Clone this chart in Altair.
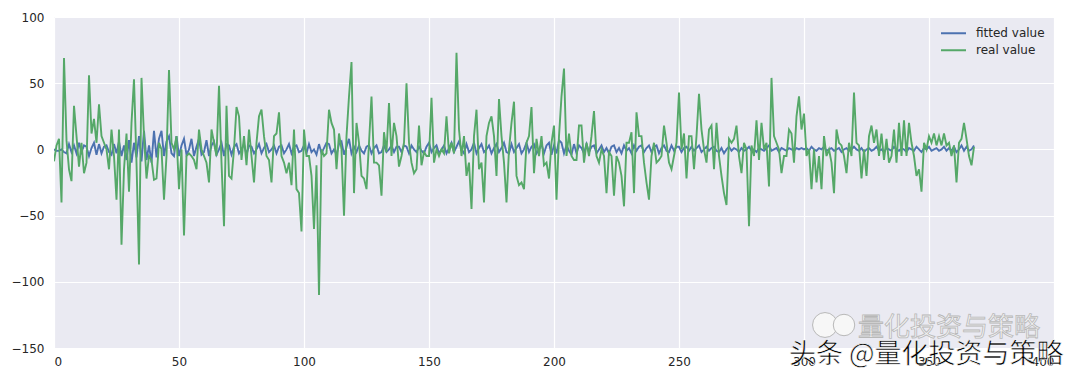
import altair as alt
import pandas as pd

# ---- data ----
real_value_a = [-9, 3, 8, -40, 69, 7, -15, -24, 33, 10, -13, 5, -18, -10, 56, 12, 23, 5, 34, 10,
                5, 0, -15, 15, -5, -38, 15, -72, -15, 12, -32, 20, 53, -10, -87, 54, 10, -22, -5, -8,
                -23, -22, 5, 0, -38, -5, 60, 5, 0, 10]
real_value_b = [-30, 0, -65, -5, -3, -5, -8, -15, 15, 0, -5, -10, -25, 15, 5, -5, 48, -10, -58, 33,
                -20, -22, 0, 32, 25, -8, 10, -12, 15, -5, -25, 5, 25, 30, 10, -5, -8, -25, 10, 12,
                28, -5, -10, -18, -10, -27, 15, -30, -33, -62]
real_value_c = [15, -5, -5, -20, -60, -12, -110, 0, -5, -3, 30, 20, 15, -15, 12, 0, -50, 10, 40, 66,
                -33, 20, 5, -20, -22, -30, 5, 40, -10, -10, -12, -35, 13, -2, 35, -5, 20, 10, -13, -5,
                5, 50, 5, -10, -18, -15, 18, -12, -2, -5]
real_value_d = [-5, 39, -10, 0, -5, 0, -3, 25, -3, 5, -3, 73, 15, -5, 10, -20, -10, -45, 10, 30,
                -15, -10, -40, 10, 20, 25, 10, -20, 38, 10, -10, -40, 0, 20, 36, -20, -27, -25, -30, 5,
                10, 32, -18, 8, -5, 10, -12, -10, -22, 5]
real_value_e = [18, -38, 10, 40, 61, -5, 12, -5, -8, -8, 18, 18, -10, 5, -5, 10, 29, -5, -10, 0,
                -5, -33, -2, -5, -35, -5, -10, -20, -43, 5, 5, 13, -33, 28, 10, 10, -10, -25, -38, -5,
                5, -10, -8, -5, 18, 5, -10, -15, -5, 5]
real_value_f = [43, 0, 12, -22, 10, 10, -15, 10, 42, 15, 0, -10, 15, 18, -15, 20, -5, -20, -33, -42,
                8, 5, 8, 18, -5, -18, 5, 0, -58, 3, -5, 22, -8, 20, 0, 5, -28, 54, 10, 5,
                0, -18, -5, -5, 15, 12, -10, 25, 40, 15]
real_value_g = [27, -5, 0, -30, 0, -25, -5, -30, 10, -5, 0, -10, -33, 15, 5, 3, -5, -18, 5, -5,
                43, 5, 3, -22, 0, -20, 10, 18, 5, 15, -5, 12, -8, 8, -10, -5, 15, -10, 20, -5,
                22, -5, 20, 5, -5, -20, -15, -32, 5, 0, 10, 5, 12, 3, 10, 3, 12, 3, 5, -5,
                3, -25, 5, 8, 20, 8, -5, -12, 2]

fitted_value_a = [0, -1, -1, 0, -2, -3, 4, -2, 3, -3, 5, -2, 3, 2, -5, 1, 5, -4, 4, -3,
                  2, 3, -2, -4, 4, -3, 6, -5, 3, -8, 7, -10, 5, -6, 10, -9, 14, -8, 3, -10,
                  14, -6, 8, 14, -5, 6, 10, -3, -5, 10]
fitted_value_b = [-5, 3, 8, -4, 0, 8, -5, 2, 8, -4, -2, 7, -5, 3, 6, -4, 0, 5, -5, 4,
                  3, -4, 2, 4, -3, 0, 4, -4, 3, 2, -3, 0, 4, -3, 1, 4, -2, 0, 3, -3,
                  2, 3, -3, 0, 4, -3, 2, 3, -2, -1]
fitted_value_c = [3, -3, 4, -2, 0, -4, 4, -3, 1, 5, 4, -3, 0, -4, 4, 6, -4, 2, 8, -3,
                  2, -2, 3, -1, -3, 2, 3, -3, 1, 3, -3, -2, 3, -2, 0, 3, -2, 2, 2, -2,
                  3, 2, -3, 3, 0, -2, 2, -1, -3, 2]
fitted_value_d = [5, -2, 1, 3, -3, 0, 3, -3, 1, 5, -2, 2, 6, 0, -3, 4, -2, 0, 5, -3,
                  1, 4, -2, 0, 3, -3, 1, 4, -2, 1, 5, -2, -3, 4, -2, 1, 4, -3, 0, 5,
                  -2, 2, 4, -3, 0, 4, -3, 3, 5, -4]
fitted_value_e = [3, -3, 7, 5, -3, 3, -1, -4, 4, -3, 3, 1, -3, 4, -2, 2, 3, -3, 0, 3,
                  -2, 1, -3, 2, 3, -2, 1, -3, 3, -1, 1, -3, 3, -1, 2, 3, -2, 1, 3, -2,
                  2, 3, -3, 1, 3, -1, -2, 3, -1, 2]
fitted_value_f = [2, -2, 1, 2, -1, 2, -1, 1, 3, -2, 0, 2, -1, 1, 2, -1, -2, 1, -3, 0,
                  2, -1, 1, 0, -2, 1, -1, 0, 2, -1, 0, -2, 1, 0, -1, 1, 3, -1, 0, 1,
                  -2, 1, 0, -1, 1, 0, -1, 1, 0, 1]
fitted_value_g = [0, 1, -1, 2, 0, -1, 1, 0, 2, -1, 0, 1, -1, 0, 1, -2, 0, 1, -1, 0,
                  2, 0, -1, 1, -2, 0, 1, -1, 0, 2, -1, 0, -2, 1, 0, -1, 2, 0, -1, 1,
                  0, -2, 1, 0, -1, 2, 0, -2, 1, 0, 2, -1, 0, 1, -1, 0, 2, -1, 1, -1,
                  2, -2, 0, 3, -1, 2, -1, 0, 3]

real_value = (real_value_a + real_value_b + real_value_c + real_value_d
              + real_value_e + real_value_f + real_value_g)
fitted_value = (fitted_value_a + fitted_value_b + fitted_value_c + fitted_value_d
                + fitted_value_e + fitted_value_f + fitted_value_g)

series_names = ["fitted value", "real value"]
series_colors = ["#4C72B0", "#55A868"]
x_ticks = [0, 50, 100, 150, 200, 250, 300, 350, 400]
y_ticks = [-150, -100, -50, 0, 50, 100]

rows = []
for i, v in enumerate(fitted_value):
    rows.append({"x": i, "value": v, "series": "fitted value", "order": 0})
for i, v in enumerate(real_value):
    rows.append({"x": i, "value": v, "series": "real value", "order": 1})
df = pd.DataFrame(rows)

lines = alt.Chart(df).mark_line(strokeWidth=1.9, clip=True).encode(
    x=alt.X("x:Q", scale=alt.Scale(domain=[0, 400], nice=False),
            axis=alt.Axis(values=x_ticks, title=None, labelPadding=8)),
    y=alt.Y("value:Q", scale=alt.Scale(domain=[-150, 100], nice=False),
            axis=alt.Axis(values=y_ticks, title=None, labelPadding=10)),
    color=alt.Color("series:N",
                    scale=alt.Scale(domain=series_names, range=series_colors),
                    legend=alt.Legend(title=None, orient="none", legendX=886, legendY=8,
                                      symbolType="stroke", symbolSize=625,
                                      symbolStrokeWidth=2, labelFontSize=12,
                                      labelFont="DejaVu Sans", labelColor="#262626",
                                      labelOffset=9, rowPadding=0, clipHeight=16.6,
                                      padding=0)),
    detail="series:N",
    order="order:Q",
)

wm_gray = alt.Chart(pd.DataFrame({"t": ["量化投资与策略"]})).mark_text(
    font="Noto Sans CJK SC", fontSize=26, align="left", baseline="middle",
    fill="#f2f2f2", stroke="#b8b8b8", strokeWidth=0.8
).encode(text="t:N", x=alt.value(804), y=alt.value(311))

wm_icon = alt.Chart(pd.DataFrame({"k": [0, 1], "s": [620, 460]})).mark_point(
    shape="circle", filled=True, fill="#f7f7f7", stroke="#b8b8b8", strokeWidth=1, opacity=1
).encode(
    x=alt.X("k:Q", scale=alt.Scale(domain=[0, 1], range=[771, 790]), axis=None),
    y=alt.value(308), size=alt.Size("s:Q", scale=None, legend=None)
)

wm_black = alt.Chart(pd.DataFrame({"t": ["头条 @量化投资与策略"]})).mark_text(
    font="Noto Sans CJK SC", fontSize=27, align="left", baseline="middle",
    fill="black", stroke="white", strokeWidth=0.6
).encode(text="t:N", x=alt.value(735), y=alt.value(338))

chart = alt.layer(lines, wm_icon, wm_gray, wm_black).resolve_scale(
    x="independent"
).properties(
    width=1000, height=331,
    autosize=alt.AutoSizeParams(type="none"),
    padding={"left": 46, "top": 9, "right": 18, "bottom": 24},
).configure_view(
    fill="#EAEAF2", stroke=None
).configure_axis(
    domain=False, ticks=False, grid=True, gridColor="white", gridWidth=1.2,
    labelFont="DejaVu Sans", labelFontSize=12, labelColor="#262626"
)

chart.save("out.html", embed_options={"renderer": "svg", "actions": False})
